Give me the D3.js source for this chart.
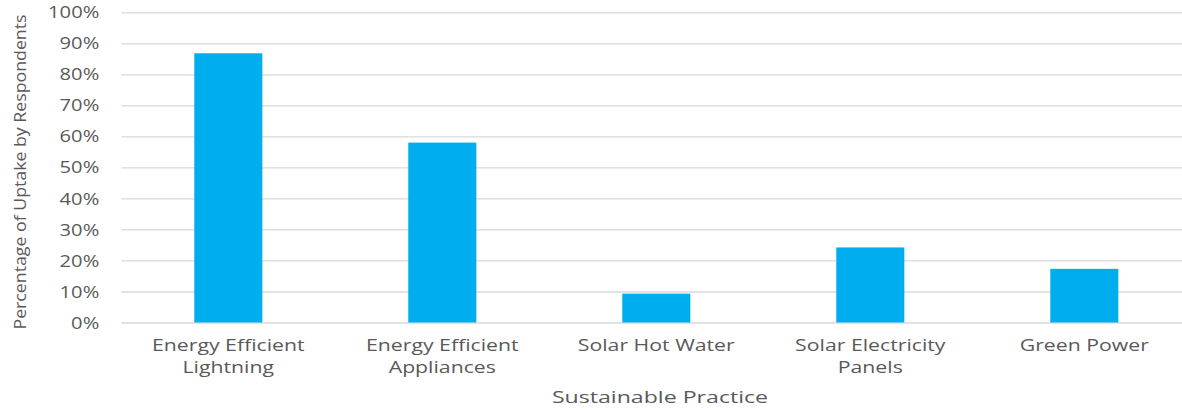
<!DOCTYPE html>
<html>
<head>
<meta charset="utf-8">
<script src="https://cdn.jsdelivr.net/npm/d3@7"></script>
<style>
  html, body { margin: 0; padding: 0; background: #fff; }
  svg { display: block; }
  text { font-family: "Open Sans", "Liberation Sans", sans-serif; fill: #595959; }
</style>
</head>
<body>
<svg id="chart" width="1182" height="410"></svg>
<script>
// Uptake of sustainable practices among respondents (share of respondents)
const categories = [
  ["Energy Efficient", "Lightning"],
  ["Energy Efficient", "Appliances"],
  ["Solar Hot Water"],
  ["Solar Electricity", "Panels"],
  ["Green Power"]
];
const uptake = [0.868, 0.580, 0.093, 0.242, 0.173];
const yTicks = [0, 0.1, 0.2, 0.3, 0.4, 0.5, 0.6, 0.7, 0.8, 0.9, 1.0];
const xTitle = "Sustainable Practice";
const yTitle = "Percentage of Uptake by Respondents";

const svg = d3.select("#chart");

const plotLeft = 121.3, plotRight = 1191.3, plotTop = 12.3, plotBottom = 322.5;
const keys = categories.map(c => c.join(" "));

const x = d3.scaleBand().domain(keys).range([plotLeft, plotRight]).paddingInner(0.682).paddingOuter(0.341);
const y = d3.scaleLinear().domain([0, 1]).range([plotBottom, plotTop]);

// widen glyphs horizontally by factor k
function widen(sel, k) {
  sel.each(function () {
    const w = this.getComputedTextLength();
    d3.select(this).attr("textLength", w * k).attr("lengthAdjust", "spacingAndGlyphs");
  });
}

// horizontal gridlines and percentage labels
const yAxis = d3.axisLeft(y).tickValues(yTicks).tickFormat(d3.format(".0%"))
  .tickSize(-(plotRight - plotLeft)).tickPadding(22);
const gy = svg.append("g").attr("transform", `translate(${plotLeft},0)`).call(yAxis);
gy.select(".domain").remove();
gy.selectAll(".tick line").attr("stroke", "#d9d9d9").attr("stroke-width", 1.3);
gy.selectAll(".tick text").attr("font-size", 15.5).attr("fill", "#595959")
  .attr("font-family", null).attr("dy", "0.36em");
gy.selectAll(".tick text").call(widen, 1.3);

// bars
svg.append("g").selectAll("rect").data(uptake).join("rect")
  .attr("x", (d, i) => x(keys[i]))
  .attr("width", x.bandwidth())
  .attr("y", d => y(d))
  .attr("height", d => y(0) - y(d))
  .attr("fill", "#00ADEF");

// category labels
const xLabels = svg.append("g").selectAll("text").data(categories).join("text")
  .attr("font-size", 15.5)
  .attr("text-anchor", "middle");
xLabels.each(function (lines, i) {
  const t = d3.select(this);
  const cx = x(keys[i]) + x.bandwidth() / 2;
  lines.forEach((ln, j) => {
    t.append("tspan").attr("x", cx).attr("y", 351 + j * 21.5).text(ln);
  });
});
xLabels.selectAll("tspan").call(widen, 1.37);

// axis titles
svg.append("text").attr("x", 660).attr("y", 403)
  .attr("text-anchor", "middle").attr("font-size", 17)
  .text(xTitle).call(widen, 1.36);

svg.append("text")
  .attr("transform", `translate(26,172) rotate(-90)`)
  .attr("text-anchor", "middle").attr("font-size", 17)
  .attr("textLength", 315).attr("lengthAdjust", "spacingAndGlyphs")
  .text(yTitle);
</script>
</body>
</html>
